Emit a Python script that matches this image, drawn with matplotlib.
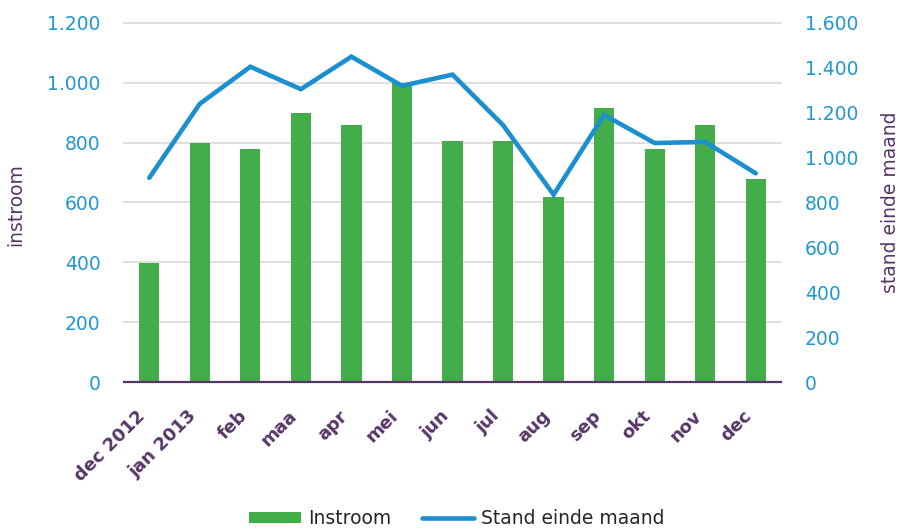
import matplotlib
matplotlib.use("Agg")
import matplotlib.pyplot as plt
from matplotlib.ticker import FuncFormatter, MultipleLocator

months = ["dec 2012", "jan 2013", "feb", "maa", "apr", "mei", "jun", "jul",
          "aug", "sep", "okt", "nov", "dec"]
instroom = [397, 800, 780, 900, 860, 1000, 805, 805, 620, 915, 780, 860, 680]
stand = [910, 1240, 1405, 1305, 1450, 1320, 1370, 1145, 835, 1190, 1065, 1070, 930]

GREEN = "#43AD4A"
BLUE = "#1B8FD0"
TICKBLUE = "#2196D3"
PURPLE = "#573566"
FS = 13.5

plt.rcParams['font.family'] = ['DejaVu Sans']

fig = plt.figure(figsize=(8.99, 5.31), dpi=100)
ax = fig.add_axes([124/899, 1-382/531, 657/899, 359/531])
ax2 = ax.twinx()

x = list(range(len(months)))
bars = ax.bar(x, instroom, width=0.4, color=GREEN, zorder=2, label="Instroom")
line, = ax2.plot(x, stand, color=BLUE, lw=3.3, solid_capstyle='round',
                 solid_joinstyle='miter', label="Stand einde maand", zorder=3)

ax.set_xlim(-0.5, len(months) - 0.5)
ax.set_ylim(0, 1200)
ax2.set_ylim(0, 1600)
ax.yaxis.set_major_locator(MultipleLocator(200))
ax2.yaxis.set_major_locator(MultipleLocator(200))

fmt = FuncFormatter(lambda v, p: f"{int(v):,}".replace(",", "."))
ax.yaxis.set_major_formatter(fmt)
ax2.yaxis.set_major_formatter(fmt)

ax.grid(axis='y', color="#D9D9D9", lw=1.2, zorder=0)
ax.set_axisbelow(True)
for gl in ax.yaxis.get_gridlines():
    gl.set_clip_on(False)

for a in (ax, ax2):
    for s in a.spines.values():
        s.set_visible(False)
ax.spines['bottom'].set_visible(True)
ax.spines['bottom'].set_color(PURPLE)
ax.spines['bottom'].set_linewidth(1.6)

ax.tick_params(axis='y', length=0, pad=17, labelsize=FS, labelcolor=TICKBLUE)
ax2.tick_params(axis='y', length=0, pad=17, labelsize=FS, labelcolor=TICKBLUE)
ax.set_xticks(x)
ax.set_xticklabels(months, rotation=45, ha='right', va='top',
                   fontweight='bold', color=PURPLE, fontsize=13)
ax.tick_params(axis='x', length=0, pad=18)

ax.set_ylabel("instroom", color=PURPLE, fontsize=FS)
ax.yaxis.set_label_coords(-0.150, 0.493)
ax2.set_ylabel("stand einde maand", color=PURPLE, fontsize=FS, rotation=90)
ax2.yaxis.set_label_coords(1.152, 0.5)

fig.legend(handles=[bars, line], labels=["Instroom", "Stand einde maand"],
           loc='center', bbox_to_anchor=(0.508, 0.023), ncol=2, frameon=False,
           fontsize=FS, handlelength=2.75, handleheight=0.55, handletextpad=0.37,
           columnspacing=1.65, labelcolor="#262626", borderaxespad=0, borderpad=0)

fig.savefig("out.png", dpi=100)
